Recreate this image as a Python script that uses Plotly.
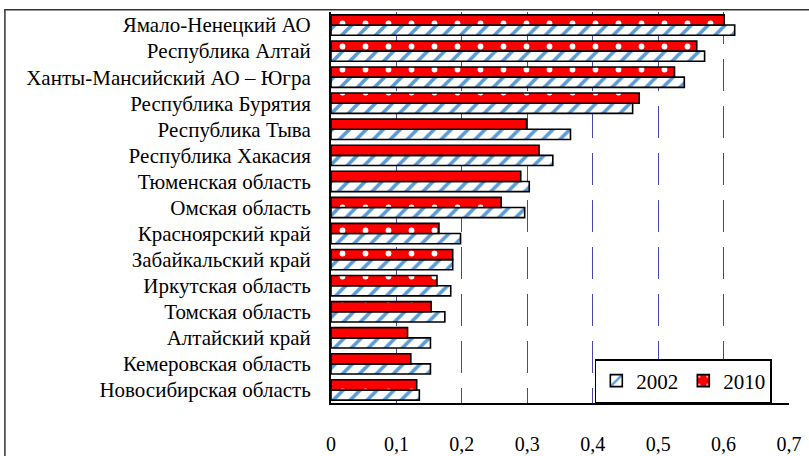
import plotly.graph_objects as go

regions = [
    "Ямало-Ненецкий АО",
    "Республика Алтай",
    "Ханты-Мансийский АО – Югра",
    "Республика Бурятия",
    "Республика Тыва",
    "Республика Хакасия",
    "Тюменская область",
    "Омская область",
    "Красноярский край",
    "Забайкальский край",
    "Иркутская область",
    "Томская область",
    "Алтайский край",
    "Кемеровская область",
    "Новосибирская область",
]
values_2002 = [0.617, 0.571, 0.540, 0.461, 0.366, 0.339, 0.303, 0.296,
               0.198, 0.186, 0.183, 0.174, 0.152, 0.152, 0.135]
values_2010 = [0.601, 0.559, 0.525, 0.471, 0.299, 0.318, 0.290, 0.260,
               0.165, 0.186, 0.162, 0.153, 0.117, 0.122, 0.131]
tick_vals = [0, 0.1, 0.2, 0.3, 0.4, 0.5, 0.6, 0.7]
tick_text = ["0", "0,1", "0,2", "0,3", "0,4", "0,5", "0,6", "0,7"]

# plotly draws the first category at the bottom, so feed lists bottom-up
cats = regions[::-1]

SERIF = "'Liberation Serif', 'DejaVu Serif', 'Noto Serif', Tinos, 'Times New Roman', Times, serif"

fig = go.Figure()
fig.add_trace(go.Bar(
    name="2002",
    y=cats,
    x=values_2002[::-1],
    orientation="h",
    marker=dict(
        color="white",
        line=dict(color="black", width=1.6),
        pattern=dict(shape="/", fgcolor="#5B9BD5", bgcolor="white",
                     size=12, solidity=0.3, fillmode="replace"),
    ),
))
fig.add_trace(go.Bar(
    name="2010",
    y=cats,
    x=values_2010[::-1],
    orientation="h",
    marker=dict(
        color="red",
        line=dict(color="black", width=1.6),
        pattern=dict(shape=".", fgcolor="white", bgcolor="#FF0000",
                     size=23, solidity=0.05, fillmode="replace"),
    ),
))

font = dict(family=SERIF, size=20, color="black")

fig.update_layout(
    width=809,
    height=456,
    margin=dict(l=331, r=20, t=12, b=53, autoexpand=False),
    paper_bgcolor="white",
    plot_bgcolor="white",
    font=font,
    barmode="group",
    bargap=0.22,
    bargroupgap=0,
    showlegend=True,
    legend=dict(
        orientation="h",
        x=0.576, xanchor="left",
        y=0.0, yanchor="bottom",
        bgcolor="white",
        bordercolor="black",
        borderwidth=1.5,
        font=dict(family=SERIF, size=21, color="black"),
        itemwidth=30,
    ),
)

fig.update_xaxes(
    range=[0, 0.7],
    tickvals=tick_vals,
    ticktext=tick_text,
    tickfont=font,
    showgrid=True,
    gridcolor="#4646A8",
    gridwidth=1,
    griddash="32px,15px",
    zeroline=False,
    showline=True,
    linecolor="black",
    linewidth=2,
    ticks="",
    ticklabelstandoff=22,
    automargin=False,
)
fig.update_yaxes(
    categoryorder="array",
    categoryarray=cats,
    tickfont=dict(family=SERIF, size=21, color="black"),
    showgrid=False,
    showline=True,
    linecolor="black",
    linewidth=2,
    ticks="",
    ticklabelstandoff=14,
    automargin=False,
)

# outer chart frame, running off the right and bottom edges like the original
fig.add_shape(type="rect", xref="paper", yref="paper",
              x0=-0.712, x1=1.2, y0=-0.3, y1=1.006,
              line=dict(color="#333333", width=1.5), layer="below")

# drop the browser's default body margin so the figure sits at the page corner
fig.write_html("out.html", config={"displayModeBar": False},
               post_script="document.body.style.margin='0';")
